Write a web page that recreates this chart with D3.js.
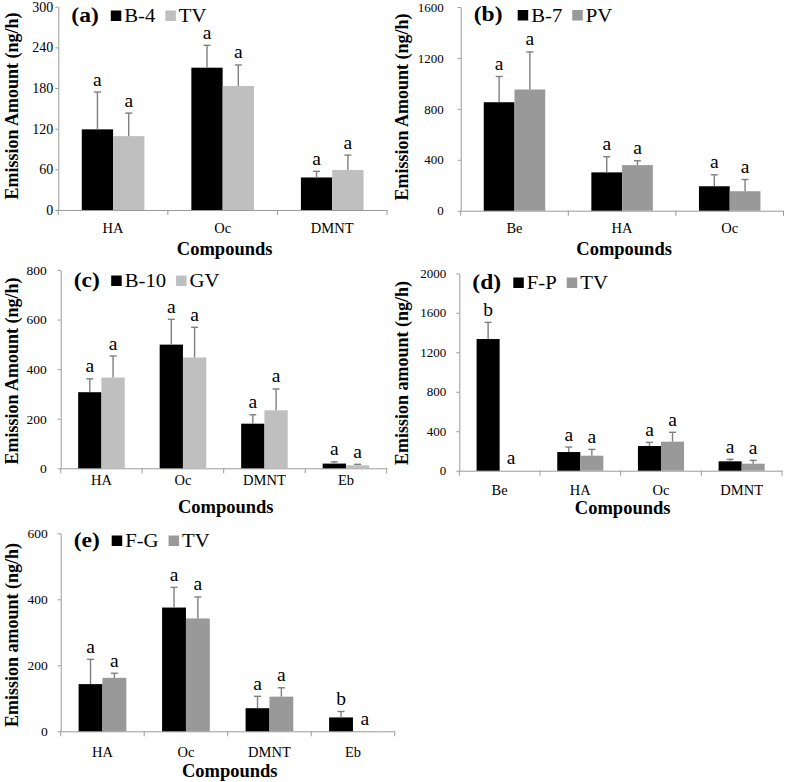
<!DOCTYPE html>
<html><head><meta charset="utf-8">
<script src="https://cdn.jsdelivr.net/npm/d3@7"></script>
<style>
body{margin:0;background:#fff}
svg{display:block}
text{font-family:"Liberation Serif","Times New Roman",serif;fill:#000}
</style>
</head><body>
<svg id="chart" width="787" height="782"></svg>
<script>
// ---------- DATA ----------
// (a)
const aCategories = ["HA", "Oc", "DMNT"];
const aSeriesNames = ["B-4", "TV"];
const aMeans1 = [119, 210, 48];
const aSD1 = [55, 33, 9];
const aMeans2 = [109, 183, 59];
const aSD2 = [34, 31, 22];
const aLetters1 = ["a", "a", "a"];
const aLetters2 = ["a", "a", "a"];
const aTicks = [0, 60, 120, 180, 240, 300];

// (b)
const bCategories = ["Be", "HA", "Oc"];
const bSeriesNames = ["B-7", "PV"];
const bMeans1 = [852, 301, 192];
const bSD1 = [202, 123, 90];
const bMeans2 = [952, 358, 153];
const bSD2 = [295, 34, 92];
const bLetters1 = ["a", "a", "a"];
const bLetters2 = ["a", "a", "a"];
const bTicks = [0, 400, 800, 1200, 1600];

// (c)
const cCategories = ["HA", "Oc", "DMNT", "Eb"];
const cSeriesNames = ["B-10", "GV"];
const cMeans1 = [307, 499, 180, 19];
const cSD1 = [54, 102, 36, 7];
const cMeans2 = [366, 447, 234, 12];
const cSD2 = [87, 122, 86, 4];
const cLetters1 = ["a", "a", "a", "a"];
const cLetters2 = ["a", "a", "a", "a"];
const cTicks = [0, 200, 400, 600, 800];

// (d)
const dCategories = ["Be", "HA", "Oc", "DMNT"];
const dSeriesNames = ["F-P", "TV"];
const dMeans1 = [1334, 189, 250, 95];
const dSD1 = [169, 51, 37, 20];
const dMeans2 = [0, 152, 294, 71];
const dSD2 = [0, 64, 95, 34];
const dLetters1 = ["b", "a", "a", "a"];
const dLetters2 = ["a", "a", "a", "a"];
const dTicks = [0, 400, 800, 1200, 1600, 2000];

// (e)
const eCategories = ["HA", "Oc", "DMNT", "Eb"];
const eSeriesNames = ["F-G", "TV"];
const eMeans1 = [143, 375, 70, 42];
const eSD1 = [75, 61, 36, 18];
const eMeans2 = [162, 342, 105, 0];
const eSD2 = [14, 65, 27, 0];
const eLetters1 = ["a", "a", "a", "b"];
const eLetters2 = ["a", "a", "a", "a"];
const eTicks = [0, 200, 400, 600];

const xTitle = "Compounds";

// ---------- LAYOUT ----------
const panels = [
  {tag:"(a)", cats:aCategories, names:aSeriesNames, m:[aMeans1,aMeans2], sd:[aSD1,aSD2], let:[aLetters1,aLetters2], ticks:aTicks,
   ytitle:"Emission Amount (ng/h)", left:58.3, right:387, y0:210, ytop:6.7, gray:"#bfbfbf",
   tickPad:2, tickFont:14, catY:233, titleY:255, yTitleX:18, yTitleY:106, legY:22, legSq:52.5},
  {tag:"(b)", cats:bCategories, names:bSeriesNames, m:[bMeans1,bMeans2], sd:[bSD1,bSD2], let:[bLetters1,bLetters2], ticks:bTicks,
   ytitle:"Emission Amount (ng/h)", left:460.7, right:783.5, y0:210.7, ytop:7, gray:"#999999",
   tickPad:14, tickFont:13, catY:233, titleY:255, yTitleX:408, yTitleY:107, legY:21.5, legSq:57},
  {tag:"(c)", cats:cCategories, names:cSeriesNames, m:[cMeans1,cMeans2], sd:[cSD1,cSD2], let:[cLetters1,cLetters2], ticks:cTicks,
   ytitle:"Emission Amount (ng/h)", left:60.7, right:386.7, y0:468.3, ytop:270, gray:"#bfbfbf",
   tickPad:11, tickFont:13.5, catY:485, titleY:513, yTitleX:18, yTitleY:371, legY:287, legSq:50.5},
  {tag:"(d)", cats:dCategories, names:dSeriesNames, m:[dMeans1,dMeans2], sd:[dSD1,dSD2], let:[dLetters1,dLetters2], ticks:dTicks,
   ytitle:"Emission amount (ng/h)", left:459.3, right:782, y0:470.7, ytop:273.3, gray:"#999999",
   tickPad:10, tickFont:13, catY:495, titleY:514, yTitleX:408, yTitleY:373, legY:289, legSq:54},
  {tag:"(e)", cats:eCategories, names:eSeriesNames, m:[eMeans1,eMeans2], sd:[eSD1,eSD2], let:[eLetters1,eLetters2], ticks:eTicks,
   ytitle:"Emission amount (ng/h)", left:60.7, right:394.7, y0:731.3, ytop:533.3, gray:"#999999",
   tickPad:10, tickFont:13.5, catY:757, titleY:777, yTitleX:18, yTitleY:635, legY:547, legSq:51}
];

const svg = d3.select("#chart");
const axisColor = "#9a9a9a";
const errColor = "#7f7f7f";
const legScale = 1.12;

function drawPanel(p) {
  const g = svg.append("g");
  const x0 = d3.scaleBand().domain(p.cats).range([p.left, p.right]).paddingInner(3/7).paddingOuter(1.5/7);
  const x1 = d3.scaleBand().domain([0, 1]).range([0, x0.bandwidth()]);
  const y = d3.scaleLinear().domain([0, d3.max(p.ticks)]).range([p.y0, p.ytop]);
  const colors = ["#000000", p.gray];

  // y axis
  const ya = g.append("g").attr("transform", `translate(${p.left},0)`)
    .call(d3.axisLeft(y).tickValues(p.ticks).tickFormat(d3.format("d")).tickSize(3).tickPadding(p.tickPad).tickSizeOuter(0));
  ya.select(".domain").attr("stroke", axisColor);
  ya.selectAll(".tick line").attr("stroke", axisColor);
  ya.selectAll(".tick text").style("font-family", '"Liberation Serif",serif').style("font-size", p.tickFont + "px").attr("fill", "#000");

  // x axis (labels at band centres, ticks at band boundaries)
  const xa = g.append("g").attr("transform", `translate(0,${p.y0})`)
    .call(d3.axisBottom(x0).tickSize(0).tickPadding(0).tickSizeOuter(0));
  xa.select(".domain").attr("stroke", axisColor);
  xa.selectAll(".tick text").remove();
  const step = x0.step();
  const bounds = p.cats.map(c => x0(c) - (step - x0.bandwidth()) / 2).concat([p.right]);
  g.selectAll(".xb").data(bounds).enter().append("line")
    .attr("x1", d => d).attr("x2", d => d).attr("y1", p.y0).attr("y2", p.y0 + 5)
    .attr("stroke", axisColor);
  g.selectAll(".catlab").data(p.cats).enter().append("text")
    .attr("x", c => x0(c) + x0.bandwidth() / 2).attr("y", p.catY)
    .attr("text-anchor", "middle").style("font-size", "14.5px").text(c => c);

  // bars
  [0, 1].forEach(s => {
    const rows = p.cats.map((c, i) => ({c, v: p.m[s][i], e: p.sd[s][i], l: p.let[s][i]}));
    g.selectAll(".bar" + s).data(rows).enter().append("rect")
      .attr("x", d => x0(d.c) + x1(s)).attr("width", x1.bandwidth())
      .attr("y", d => y(d.v)).attr("height", d => y(0) - y(d.v))
      .attr("fill", colors[s]);
    const withErr = rows.filter(d => d.e > 0);
    g.selectAll(".err" + s).data(withErr).enter().append("line")
      .attr("x1", d => x0(d.c) + x1(s) + x1.bandwidth() / 2)
      .attr("x2", d => x0(d.c) + x1(s) + x1.bandwidth() / 2)
      .attr("y1", d => y(d.v)).attr("y2", d => y(d.v + d.e))
      .attr("stroke", errColor).attr("stroke-width", 1.4);
    g.selectAll(".cap" + s).data(withErr).enter().append("line")
      .attr("x1", d => x0(d.c) + x1(s) + x1.bandwidth() / 2 - 3.5)
      .attr("x2", d => x0(d.c) + x1(s) + x1.bandwidth() / 2 + 3.5)
      .attr("y1", d => y(d.v + d.e)).attr("y2", d => y(d.v + d.e))
      .attr("stroke", errColor).attr("stroke-width", 1.4);
    g.selectAll(".let" + s).data(rows).enter().append("text")
      .attr("x", d => x0(d.c) + x1(s) + x1.bandwidth() / 2)
      .attr("y", d => y(d.v + d.e) - 6.5)
      .attr("text-anchor", "middle").style("font-size", "19.5px").text(d => d.l);
  });

  // axis titles
  g.append("text").attr("x", (p.left + p.right) / 2 + 2).attr("y", p.titleY)
    .attr("text-anchor", "middle").style("font-size", "18.5px").style("font-weight", "bold").text(xTitle);
  g.append("text").attr("transform", `translate(${p.yTitleX},${p.yTitleY}) rotate(-90)`)
    .attr("text-anchor", "middle").style("font-size", "18px").style("font-weight", "bold").text(p.ytitle);

  // panel tag + legend
  g.append("text").attr("transform", `translate(${p.left + 13},${p.legY - 0.5}) scale(1.15,1)`)
    .style("font-size", "20.5px").style("font-weight", "bold").text(p.tag);
  let lx = p.left + p.legSq;
  [0, 1].forEach(s => {
    g.append("rect").attr("x", lx).attr("y", p.legY - 11.5).attr("width", 10.5).attr("height", 10.5).attr("fill", colors[s]);
    const t = g.append("text").attr("transform", `translate(${lx + 13.5},${p.legY}) scale(${legScale},1)`)
      .style("font-size", "18.5px").text(p.names[s]);
    lx = lx + 13.5 + t.node().getComputedTextLength() * legScale + 10;
  });
}

panels.forEach(drawPanel);
</script>
</body></html>
